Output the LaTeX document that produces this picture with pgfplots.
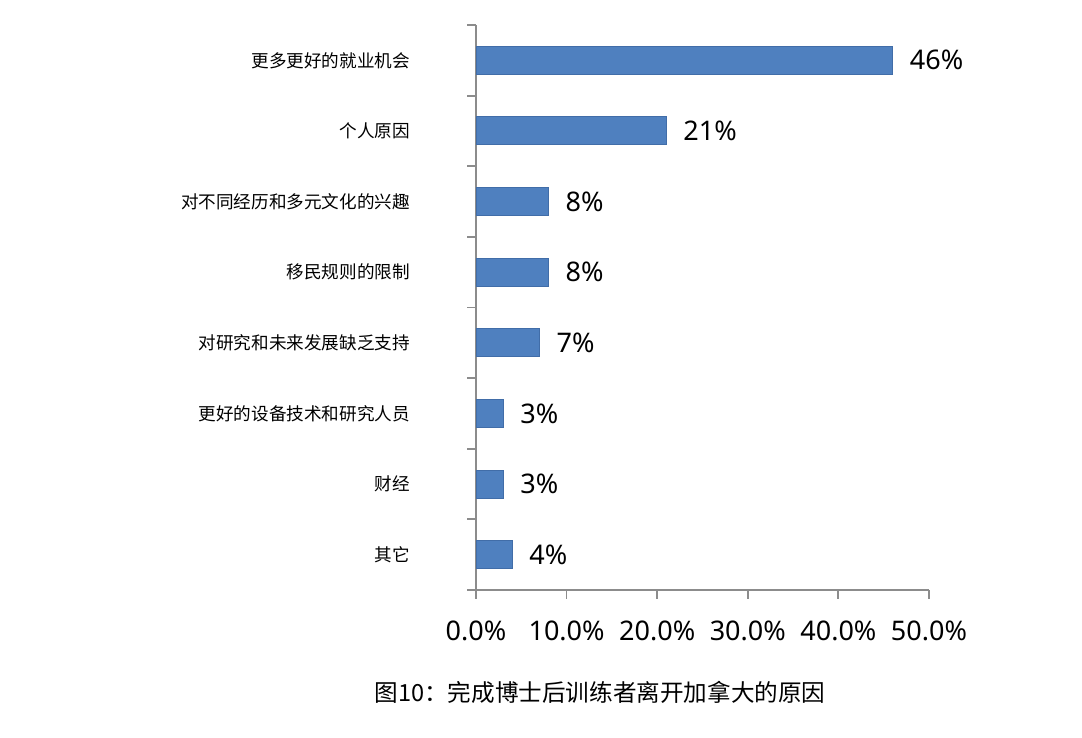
\documentclass[border=0pt]{standalone}
\usepackage{fontspec}
\usepackage{pgfplots}
\pgfplotsset{compat=1.18}
\setmainfont{Noto Sans}
\newfontfamily\cjk{Noto Sans CJK SC}
\definecolor{barblue}{HTML}{4F80BF}
\definecolor{barline}{HTML}{416DA8}
\definecolor{axisgray}{HTML}{8C8C8C}

\begin{document}
\begin{tikzpicture}
% canvas, 1px = 0.5pt
\path (0,0) rectangle (541pt,369pt);
\begin{axis}[
  at={(238pt,74pt)},
  anchor=south west,
  scale only axis,
  width=226.5pt,
  height=282.5pt,
  xmin=0, xmax=50,
  ymin=-0.5, ymax=7.5,
  xbar,
  bar width=14pt,
  axis lines*=left,
  axis line style={axisgray, line width=0.9pt},
  tick style={axisgray, line width=0.9pt},
  tick align=outside,
  major tick length=4.5pt,
  xtick={0,10,20,30,40,50},
  xticklabel={\pgfmathprintnumber[fixed,fixed zerofill,precision=1]{\tick}\%},
  xticklabel style={font=\fontsize{13.5}{15}\selectfont, yshift=-7.5pt},
  ytick={0,1,2,3,4,5,6,7},
  y tick style={draw=none},
  yticklabels={其它,财经,更好的设备技术和研究人员,对研究和未来发展缺乏支持,移民规则的限制,对不同经历和多元文化的兴趣,个人原因,更多更好的就业机会},
  yticklabel style={font=\cjk\fontsize{8.8}{10}\selectfont, anchor=east, xshift=-25pt},
  extra y ticks={-0.5,0.5,1.5,2.5,3.5,4.5,5.5,6.5,7.5},
  extra y tick labels={},
  extra y tick style={y tick style={draw=axisgray}},
  /pgf/number format/assume math mode=true,
  point meta=x,
  nodes near coords={\pgfmathprintnumber[fixed,precision=0]{\pgfplotspointmeta}\%},
  nodes near coords style={font=\fontsize{13.5}{15}\selectfont, anchor=west, xshift=5pt, black},
  clip=false,
]
\addplot[fill=barblue, draw=barline, line width=0.5pt]
  coordinates {(4,0) (3,1) (3,2) (7,3) (8,4) (8,5) (21,6) (46,7)};
\end{axis}
\node[font=\cjk\fontsize{11.8}{13}\selectfont] at (300pt,23pt) {图10：完成博士后训练者离开加拿大的原因};
\end{tikzpicture}
\end{document}
